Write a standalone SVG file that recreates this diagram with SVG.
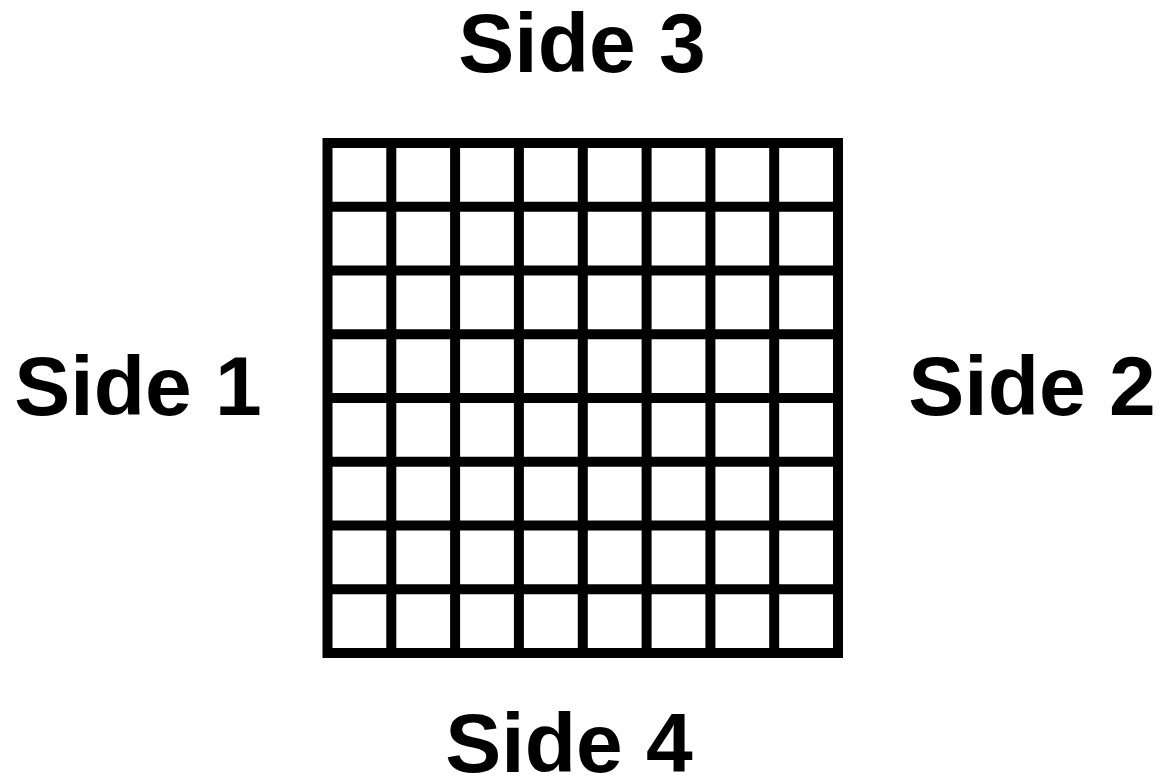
<svg xmlns="http://www.w3.org/2000/svg" width="1165" height="780" viewBox="0 0 1165 780">
<style>
.lbl{font-family:"Liberation Sans",Arial,sans-serif;font-size:84px;font-weight:bold;fill:#000;text-anchor:middle}
.g{fill:none;stroke:#000;stroke-width:10}
</style>
<rect width="1165" height="780" fill="#fff"/>
<g id="grid">
<rect class="g" x="327.5" y="143" width="510.5" height="510"/>
<path class="g" d="M391.3 143V653M455.1 143V653M518.9 143V653M582.8 143V653M646.6 143V653M710.4 143V653M774.2 143V653M327.5 206.8H838M327.5 270.5H838M327.5 334.3H838M327.5 398H838M327.5 461.8H838M327.5 525.5H838M327.5 589.3H838"/>
</g>
<g id="side3"><text class="lbl" x="582" y="72">Side 3</text></g>
<g id="side1"><text class="lbl" x="138" y="415">Side 1</text></g>
<g id="side2"><text class="lbl" x="1032" y="415">Side 2</text></g>
<g id="side4"><text class="lbl" x="569" y="772">Side 4</text></g>
</svg>
